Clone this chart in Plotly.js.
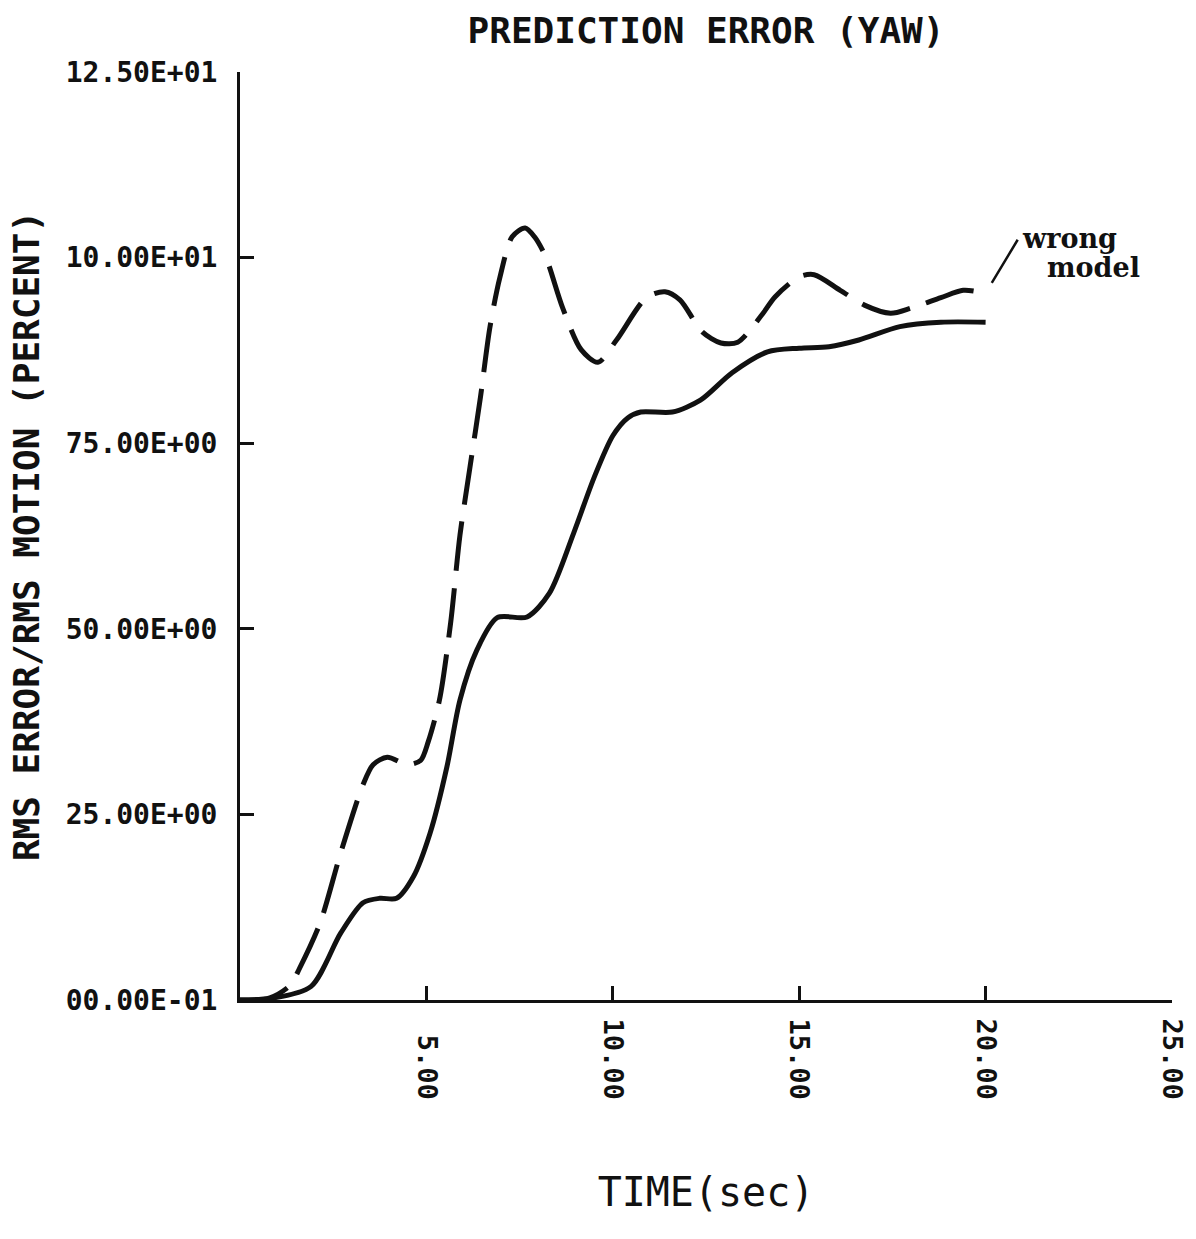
<!DOCTYPE html>
<html>
<head>
<meta charset="utf-8">
<script src="https://cdn.plot.ly/plotly-3.0.1.min.js"></script>
<style>
  html, body { margin: 0; padding: 0; background: #ffffff; }
  #chart { width: 1196px; height: 1239px; }
</style>
</head>
<body>
<div id="chart"></div>
<script>
// Prediction error for yaw: RMS error as a percentage of RMS motion over time.

// Correct model (solid curve)
const timeTrue = [0, 0.8, 1.9, 2.7, 3.3, 3.75, 4.2, 4.65, 5.1, 5.55, 5.9, 6.35, 6.9, 7.7,
  8.3, 8.95, 9.5, 10.0, 10.4, 10.75, 11.6, 12.35, 13.2, 14.15, 15.0, 15.8, 16.6, 17.7, 18.8, 20.0];
const errTrue = [0, 0.2, 1.8, 9.0, 13.1, 13.7, 13.7, 16.6, 22.5, 31.4, 40.4, 47.1, 51.5, 51.6,
  54.8, 62.9, 70.4, 76.0, 78.4, 79.2, 79.2, 80.8, 84.5, 87.3, 87.8, 88.0, 88.9, 90.7, 91.3, 91.3];

// Wrong model (dashed curve)
const timeWrong = [0, 0.8, 1.35, 1.6, 2.15, 2.7, 3.3, 3.57, 3.95, 4.5, 4.85, 5.05, 5.35, 5.65,
  5.9, 6.17, 6.45, 6.7, 6.97, 7.3, 7.65, 7.9, 8.2, 8.65, 9.15, 9.6, 10.1, 10.9, 11.4, 11.8,
  12.4, 12.9, 13.35, 14.0, 14.35, 15.0, 15.4, 16.1, 16.75, 17.45, 18.0, 18.8, 19.4, 20.0];
const errWrong = [0, 0.3, 2.0, 4.3, 10.4, 19.8, 29.0, 31.7, 32.7, 31.7, 32.3, 34.8, 40.4, 50.8,
  62.6, 71.8, 81.2, 90.5, 97.3, 102.8, 104.0, 102.8, 100.1, 93.3, 87.6, 85.9, 88.9, 94.6, 95.4, 94.3,
  90.0, 88.5, 88.6, 92.3, 94.7, 97.4, 97.7, 95.6, 93.6, 92.5, 93.2, 94.6, 95.6, 95.2];

// Axis ticks
const yTickVals = [0, 25, 50, 75, 100, 125];
const yTickText = ['00.00E-01', '25.00E+00', '50.00E+00', '75.00E+00', '10.00E+01', '12.50E+01'];
const xTickVals = [5, 10, 15, 20, 25];
const xTickText = ['\u00A05.00', '10.00', '15.00', '20.00', '25.00'];

const INK = '#111111';
const monoBold = { family: 'DejaVu Sans Mono', size: 27, color: INK, weight: 'bold' };

const traces = [
  {
    x: timeTrue, y: errTrue, type: 'scatter', mode: 'lines',
    line: { color: INK, width: 5, shape: 'spline', smoothing: 0.8 },
    hoverinfo: 'skip', showlegend: false
  },
  {
    x: timeWrong, y: errWrong, type: 'scatter', mode: 'lines',
    line: { color: INK, width: 5, shape: 'spline', smoothing: 0.8, dash: '50px,17px' },
    hoverinfo: 'skip', showlegend: false
  }
];

const layout = {
  width: 1196, height: 1239,
  paper_bgcolor: '#ffffff', plot_bgcolor: '#ffffff',
  margin: { l: 240, r: 24, t: 72, b: 239 },
  title: {
    text: 'PREDICTION ERROR (YAW)',
    font: { family: 'DejaVu Sans Mono', size: 36, color: INK, weight: 'bold' },
    xref: 'paper', x: 0.5, xanchor: 'center',
    yref: 'container', y: 1 - 30 / 1239, yanchor: 'middle'
  },
  xaxis: {
    range: [0, 25], showgrid: false, zeroline: false,
    showline: true, linecolor: INK, linewidth: 3,
    ticks: 'inside', ticklen: 14, tickwidth: 3, tickcolor: INK,
    tickmode: 'array', tickvals: xTickVals, ticktext: xTickText,
    tickangle: 90, tickfont: monoBold, ticklabelstandoff: 10,
    title: {
      text: 'TIME(sec)',
      font: { family: 'DejaVu Sans Mono', size: 40, color: INK },
      standoff: 80
    },
    fixedrange: true
  },
  yaxis: {
    range: [0, 125], showgrid: false, zeroline: false,
    showline: true, linecolor: INK, linewidth: 3,
    ticks: 'inside', ticklen: 14, tickwidth: 3, tickcolor: INK,
    tickmode: 'array', tickvals: yTickVals, ticktext: yTickText,
    tickfont: { family: 'DejaVu Sans Mono', size: 28, color: INK, weight: 'bold' },
    ticklabelstandoff: 14,
    title: {
      text: 'RMS ERROR/RMS MOTION (PERCENT)',
      font: { family: 'DejaVu Sans Mono', size: 36, color: INK, weight: 'bold' },
      standoff: 16
    },
    fixedrange: true
  },
  annotations: [
    {
      x: 20.92, y: 102.6, xref: 'x', yref: 'y', xanchor: 'left', yanchor: 'middle',
      text: '<b>wrong</b>', showarrow: false,
      font: { family: 'DejaVu Serif', size: 27, color: INK }
    },
    {
      x: 21.6, y: 98.7, xref: 'x', yref: 'y', xanchor: 'left', yanchor: 'middle',
      text: '<b>model</b>', showarrow: false,
      font: { family: 'DejaVu Serif', size: 27, color: INK }
    },
    {
      x: timeWrong[timeWrong.length - 1], y: errWrong[errWrong.length - 1],
      xref: 'x', yref: 'y', text: '', showarrow: true,
      arrowhead: 0, arrowwidth: 2.5, arrowcolor: INK,
      ax: 33, ay: -55, standoff: 12
    }
  ]
};

Plotly.newPlot('chart', traces, layout, { displayModeBar: false, staticPlot: true });
</script>
</body>
</html>
